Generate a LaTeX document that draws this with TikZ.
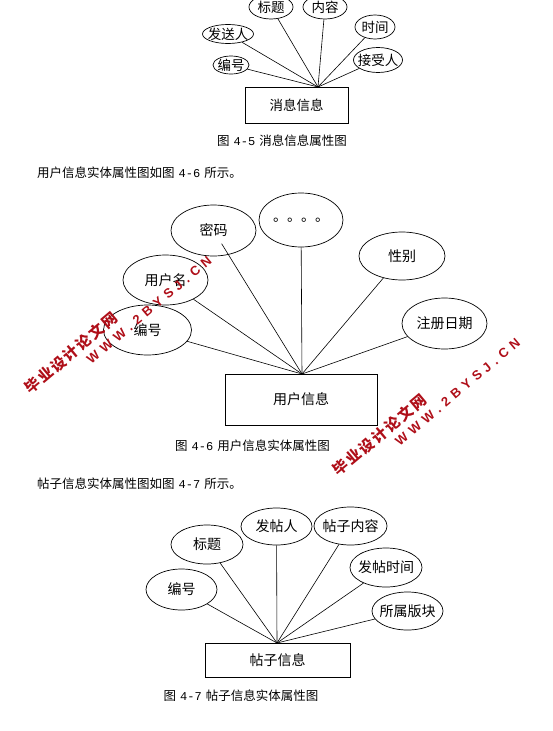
\documentclass[tikz,border=0pt]{standalone}
\usepackage{fontspec}
\usetikzlibrary{shapes.geometric}
\setmainfont{Noto Sans CJK SC}
\newfontfamily\lmono{Liberation Mono}
\newfontfamily\wmsans{Liberation Sans}
\definecolor{wmred}{RGB}{175,15,25}
\newcommand\fnum[1]{\hspace{4pt}{\lmono\fontsize{12}{14}\selectfont #1}\hspace{4pt}}
\begin{document}
\begin{tikzpicture}[x=1pt,y=1pt,
  attrA/.style={draw, ellipse, line width=0.7pt, inner sep=0pt,
    label={[font=\fontsize{13.5}{15}\selectfont]center:#1}},
  attrB/.style={draw, ellipse, line width=0.7pt, inner sep=0pt,
    label={[font=\fontsize{14}{16}\selectfont]center:#1}},
  ent/.style={draw, rectangle, line width=0.8pt, inner sep=0pt},
  conn/.style={line width=0.6pt},
  captxt/.style={inner sep=0pt, font=\fontsize{12.5}{14}\selectfont},
  wmcn/.style={text=wmred, inner sep=0pt, font=\fontsize{15}{15}\selectfont\bfseries},
  wmen/.style={text=wmred, inner sep=0pt, font=\wmsans\fontsize{13}{13}\selectfont\bfseries}]
\useasboundingbox (0,0) rectangle (552,-731);

% ---------- Diagram 4-5 ----------
\node[attrA={标题}, minimum width=44pt, minimum height=24pt] (d1title) at (271,-7) {};
\node[attrA={内容}, minimum width=44pt, minimum height=24pt] (d1content) at (325,-7) {};
\node[attrA={时间}, minimum width=40pt, minimum height=24pt] (d1time) at (375,-27) {};
\node[attrA={接受人}, minimum width=49pt, minimum height=25pt] (d1recv) at (378,-60) {};
\node[attrA={发送人}, minimum width=51pt, minimum height=19pt] (d1send) at (228,-34) {};
\node[attrA={编号}, minimum width=36pt, minimum height=18pt] (d1id) at (231,-65) {};
\node[ent, minimum width=103pt, minimum height=36pt, font=\fontsize{13.5}{15}\selectfont] (d1ent) at (296.5,-105) {消息信息};
\coordinate (h1) at (318,-87);
\foreach \n in {d1title,d1content,d1time,d1recv,d1send,d1id} \draw[conn] (\n) -- (h1);
\node[captxt] (cap1) at (282,-141) {图\fnum{4-5}消息信息属性图};

\node[captxt, anchor=west] (txt1) at (37,-173) {用户信息实体属性图如图\fnum{4-6}所示。};

% ---------- Diagram 4-6 ----------
\node[attrB={密码}, minimum width=85pt, minimum height=51pt] (d2pwd) at (213.5,-230.5) {};
\node[attrB={。。。。}, minimum width=84pt, minimum height=54pt] (d2dots) at (301,-220) {};
\node[attrB={性别}, minimum width=86pt, minimum height=48pt] (d2sex) at (402,-256) {};
\node[attrB={用户名}, minimum width=85pt, minimum height=50pt] (d2name) at (165.5,-280) {};
\node[attrB={编号}, minimum width=88pt, minimum height=50pt] (d2id) at (147.5,-330) {};
\node[attrB={注册日期}, minimum width=85pt, minimum height=51pt] (d2date) at (444.5,-323.5) {};
\node[ent, minimum width=152pt, minimum height=51pt, font=\fontsize{14}{16}\selectfont] (d2ent) at (301,-399.5) {用户信息};
\coordinate (h2) at (302,-374);
\draw[conn, shorten <=-13pt] (d2pwd) -- (h2);
\foreach \n in {d2dots,d2sex,d2name,d2id,d2date} \draw[conn] (\n) -- (h2);
\node[captxt] (cap2) at (252.5,-446) {图\fnum{4-6}用户信息实体属性图};

\node[captxt, anchor=west] (txt2) at (37,-484) {帖子信息实体属性图如图\fnum{4-7}所示。};

% ---------- Diagram 4-7 ----------
\node[attrB={发帖人}, minimum width=71pt, minimum height=37pt] (d3author) at (276.5,-526.5) {};
\node[attrB={帖子内容}, minimum width=73pt, minimum height=38pt] (d3content) at (350.5,-526) {};
\node[attrB={标题}, minimum width=72pt, minimum height=39pt] (d3title) at (207,-544.5) {};
\node[attrB={发帖时间}, minimum width=72pt, minimum height=39pt] (d3time) at (386,-567.5) {};
\node[attrB={编号}, minimum width=71pt, minimum height=41pt] (d3id) at (181.5,-589.5) {};
\node[attrB={所属版块}, minimum width=71pt, minimum height=38pt] (d3board) at (407.5,-611) {};
\node[ent, minimum width=145pt, minimum height=34pt, font=\fontsize{14}{16}\selectfont] (d3ent) at (277.5,-660) {帖子信息};
\coordinate (h3) at (277,-643);
\foreach \n in {d3author,d3content,d3title,d3time,d3id,d3board} \draw[conn] (\n) -- (h3);
\node[captxt] (cap3) at (241,-696) {图\fnum{4-7}帖子信息实体属性图};

% ---------- Watermarks ----------
\begin{scope}[shift={(71,-353)}, rotate=40, transform shape]
  \node[wmcn] (wm1a) at (0,0) {\makebox[116pt][s]{毕\hfill 业\hfill 设\hfill 计\hfill 论\hfill 文\hfill 网}};
  \node[wmen] (wm1b) at (87.4,-17.3) {\makebox[158pt][s]{W\hfill W\hfill W\hfill .\hfill 2\hfill B\hfill Y\hfill S\hfill J\hfill .\hfill C\hfill N}};
\end{scope}
\begin{scope}[shift={(379.5,-435)}, rotate=40, transform shape]
  \node[wmcn] (wm2a) at (0,0) {\makebox[116pt][s]{毕\hfill 业\hfill 设\hfill 计\hfill 论\hfill 文\hfill 网}};
  \node[wmen] (wm2b) at (87.4,-17.3) {\makebox[158pt][s]{W\hfill W\hfill W\hfill .\hfill 2\hfill B\hfill Y\hfill S\hfill J\hfill .\hfill C\hfill N}};
\end{scope}
\end{tikzpicture}
\end{document}
